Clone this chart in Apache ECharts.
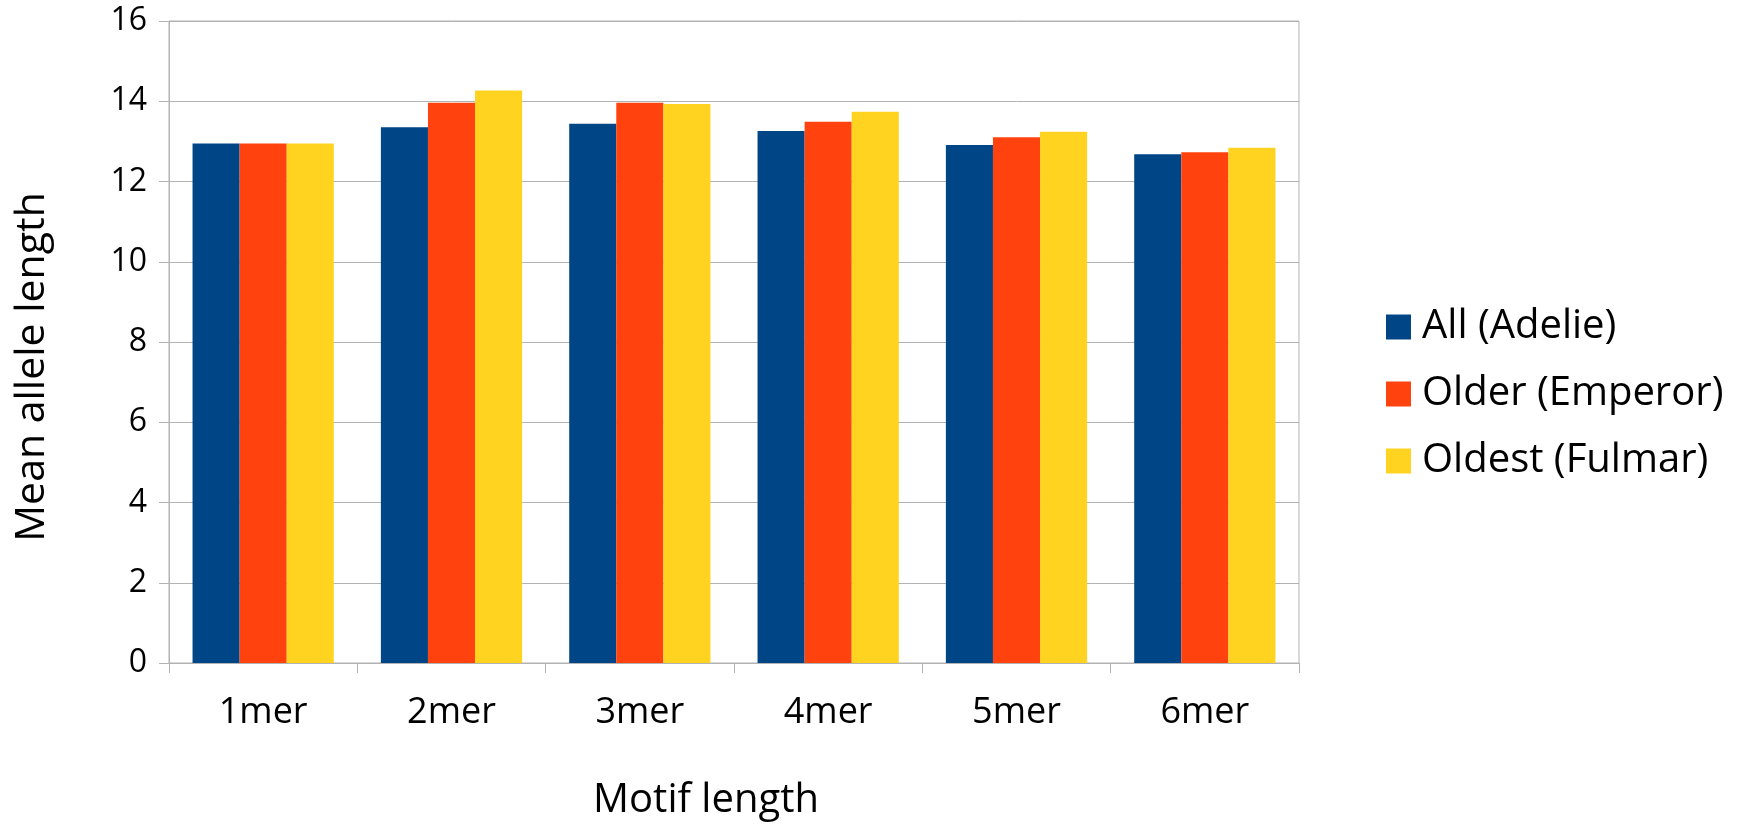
<!DOCTYPE html>
<html>
<head>
<meta charset="utf-8">
<script src="https://cdn.jsdelivr.net/npm/echarts@6/dist/echarts.min.js"></script>
<style>
  html, body { margin: 0; padding: 0; background: #ffffff; }
  #chart { width: 1746px; height: 824px; }
</style>
</head>
<body>
<div id="chart"></div>
<script>
// Motif lengths on the x axis
const motifs = ['1mer', '2mer', '3mer', '4mer', '5mer', '6mer'];

// Mean allele length per motif length, one array per group
const allAdelie = [12.95, 13.35, 13.44, 13.26, 12.91, 12.68];
const olderEmperor = [12.95, 13.96, 13.96, 13.49, 13.10, 12.73];
const oldestFulmar = [12.95, 14.27, 13.93, 13.74, 13.24, 12.84];

const seriesNames = ['All (Adelie)', 'Older (Emperor)', 'Oldest (Fulmar)'];
const seriesColors = ['#004586', '#ff420e', '#ffd320'];

// Value axis ticks
const yMin = 0;
const yMax = 16;
const yStep = 2;

const FONT = '"Open Sans", "Noto Sans", sans-serif';
const GRID_GREY = '#b3b3b3';

const chart = echarts.init(document.getElementById('chart'), null, { renderer: 'canvas' });

const seriesData = [allAdelie, olderEmperor, oldestFulmar];

chart.setOption({
  animation: false,
  backgroundColor: '#ffffff',
  textStyle: { fontFamily: FONT, color: '#000000' },
  grid: {
    left: 169,
    right: 447,
    top: 21,
    bottom: 161,
    outerBoundsMode: 'none',
    containLabel: false,
    show: true,
    borderColor: GRID_GREY,
    borderWidth: 1,
    backgroundColor: 'transparent'
  },
  legend: {
    orient: 'vertical',
    left: 1386,
    top: 307,
    padding: 0,
    itemWidth: 25,
    itemHeight: 25,
    itemGap: 27,
    icon: 'rect',
    data: seriesNames,
    textStyle: {
      fontFamily: FONT,
      fontSize: 40,
      color: '#000000',
      lineHeight: 40,
      padding: [0, 0, 0, 6]
    }
  },
  xAxis: {
    type: 'category',
    data: motifs,
    name: 'Motif length',
    nameLocation: 'middle',
    nameGap: 118,
    nameTextStyle: {
      fontFamily: FONT,
      fontSize: 40,
      color: '#000000',
      padding: [0, 56, 0, 0]
    },
    axisLine: { show: true, lineStyle: { color: GRID_GREY, width: 1 } },
    axisTick: { show: true, length: 10, alignWithLabel: false, lineStyle: { color: GRID_GREY } },
    axisLabel: {
      fontFamily: FONT,
      fontSize: 36,
      color: '#000000',
      margin: 32
    },
    splitLine: { show: false }
  },
  yAxis: {
    type: 'value',
    min: yMin,
    max: yMax,
    interval: yStep,
    name: 'Mean allele length',
    nameLocation: 'middle',
    nameGap: 116,
    nameTextStyle: {
      fontFamily: FONT,
      fontSize: 41,
      color: '#000000',
      padding: [0, 50, 0, 0]
    },
    axisLine: { show: true, lineStyle: { color: GRID_GREY, width: 1 } },
    axisTick: { show: true, length: 10, lineStyle: { color: GRID_GREY } },
    axisLabel: {
      fontFamily: FONT,
      fontSize: 32,
      color: '#000000',
      margin: 22
    },
    splitLine: { show: true, lineStyle: { color: GRID_GREY, width: 1 } }
  },
  series: seriesNames.map((name, i) => ({
    name: name,
    type: 'bar',
    data: seriesData[i],
    barGap: '0%',
    barCategoryGap: '25%',
    itemStyle: { color: seriesColors[i] },
    emphasis: { disabled: true }
  }))
});
</script>
</body>
</html>
